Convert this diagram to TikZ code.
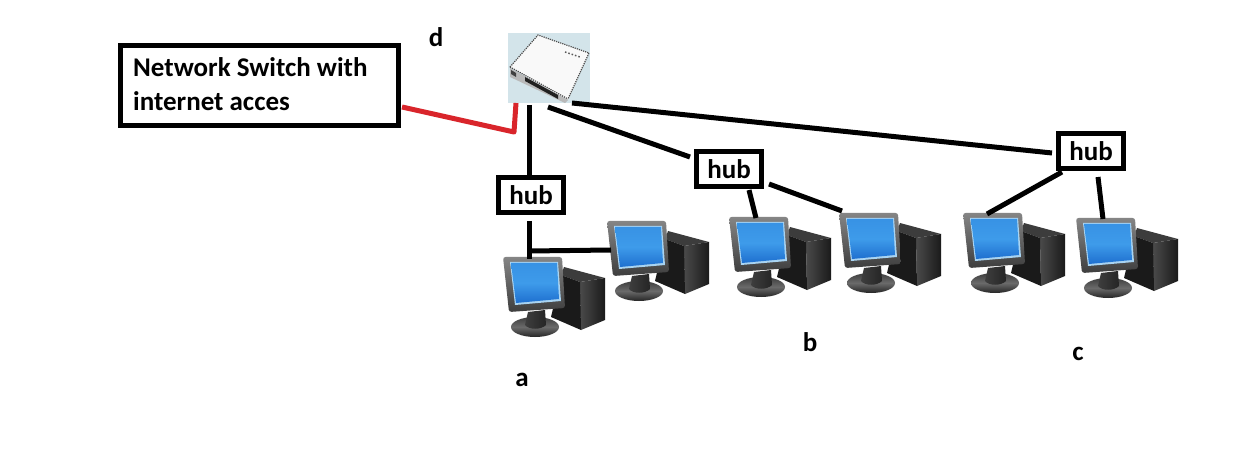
\documentclass[tikz,border=0pt]{standalone}
\usepackage{fontspec}
\setmainfont{Carlito}
\definecolor{scrdk}{HTML}{1E6FCF}
\definecolor{scrmid}{HTML}{3E9BEA}
\definecolor{scrl}{HTML}{A9D4F2}
\definecolor{monlt}{HTML}{858585}
\definecolor{mondk}{HTML}{3E3E3E}
\definecolor{twrl}{HTML}{1A1A1A}
\definecolor{twrm}{HTML}{4A4A4A}
\definecolor{twrt}{HTML}{3C3C3C}
\definecolor{netred}{HTML}{D9252B}
\definecolor{swbg}{HTML}{D3E4EA}
\tikzset{
  x=1pt,y=-1pt,
  wire/.style={line width=5pt,black},
  redwire/.style={line width=5pt,netred,line join=round},
  hubbox/.style={draw=black,line width=5pt,fill=white,font=\bfseries\fontsize{27}{27}\selectfont,inner sep=0pt,minimum height=35pt,minimum width=65pt},
  lab/.style={font=\bfseries\fontsize{27}{27}\selectfont,inner sep=0pt}
}
\newcommand{\pcicon}[2]{%
\begin{scope}[shift={(#1,#2)}]
 \fill[twrt] (61,10) -- (102,21) -- (77,25) -- (58,18) -- cycle;
 \shade[left color=twrm,right color=twrl] (77,25) -- (102,21) -- (102,63) -- (78,73) -- cycle;
 \fill[twrl] (58,18) -- (77,25) -- (78,73) -- (48,60) -- cycle;
 \shade[top color=mondk,bottom color=mondk!60!black,middle color=monlt!80!black] (32,70) ellipse (24 and 10);
 \shade[left color=mondk,right color=mondk!60!black] (25,55) -- (42,53) -- (43,68) .. controls (38,73) and (26,73) .. (22,68) -- cycle;
 \shade[top color=monlt,bottom color=mondk,rounded corners=2.5pt] (0,0) -- (59,0) -- (62,51) -- (6,55) -- cycle;
 \fill[scrl] (7,5) -- (55,5) -- (58,44) -- (12,48) -- cycle;
 \shade[top color=scrmid!80!scrdk,bottom color=scrdk,middle color=scrmid] (8,6) -- (54,6) -- (56,42) -- (13,46) -- cycle;
\end{scope}}
\begin{document}
\begin{tikzpicture}
\useasboundingbox (0,0) rectangle (1236,470);
\fill[white] (0,0) rectangle (1236,470);
% switch image
\fill[swbg] (508,33) rectangle (589.5,103);
\fill[white!95!gray] (510,67) -- (538,35) -- (589,53) -- (568,100) -- cycle;
\fill[gray!55] (510,68) -- (568,100) -- (565,103) -- (510,77) -- cycle;
\draw[gray!60!black,densely dotted,line width=1.2pt] (510,67) -- (538,35) -- (589,53) -- (568,99);
\draw[gray!60!black,densely dotted,line width=1.2pt] (510,67) -- (568,99);
\draw[gray!70!black,dotted,line width=1.5pt] (565,52) -- (580,57);
\fill[gray!25!black] (525,77) -- (558,95) -- (558,99) -- (525,81) -- cycle;
\fill[gray!50!black] (511,70) -- (516,73) -- (516,77) -- (511,74) -- cycle;
% computers
\pcicon{503}{257}
\pcicon{607}{221}
\pcicon{729}{217}
\pcicon{839}{213}
\pcicon{963}{213}
\pcicon{1076}{218}
\coordinate (pa1) at (529,259);
\coordinate (pa2) at (611,250);
\coordinate (pb1) at (756,218);
\coordinate (pb2) at (842,211);
\coordinate (pc1) at (987,214);
\coordinate (pc2) at (1103,219);
% hubs
\node[hubbox] (huba) at (531,195) {hub};
\node[hubbox] (hubb) at (729,169) {hub};
\node[hubbox] (hubc) at (1091,151.5) {hub};
% label box
\node[draw=black,line width=5pt,fill=white,minimum width=278pt,minimum height=80pt,inner sep=0pt] (nsw) at (259.5,85.5) {};
\node[lab,anchor=west] (t1) at (133,67) {Network Switch with};
\node[lab,anchor=west] (t2) at (133,101) {internet acces};
\node[lab] (da) at (522,380) {a};
\node[lab] (db) at (810,342) {b};
\node[lab] (dc) at (1078,354) {c};
\node[lab] (dd) at (436,37) {d};
% connectors
\coordinate (s1) at (529,105);
\coordinate (s2) at (548,107);
\coordinate (s3) at (572,103);
\coordinate (s4) at (516,103);
\coordinate (j) at (529,251);
\coordinate (r0) at (402,107);
\coordinate (r1) at (514,132);
\coordinate (h1) at (529,221);
\coordinate (e2) at (690,157);
\coordinate (e3) at (1052,153);
\draw[wire] (s1) -- (s1 |- huba.north);
\draw[wire] (h1) -- (pa1);
\draw[wire] (j) -- (pa2);
\draw[wire] (s2) -- (e2);
\draw[wire] (s3) -- (e3);
\coordinate (b1) at (749,190);
\draw[wire] (b1) -- (pb1);
\coordinate (b2) at (769,184);
\draw[wire] (b2) -- (pb2);
\coordinate (c1) at (1062,172);
\draw[wire] (c1) -- (pc1);
\coordinate (c2) at (1098,177);
\draw[wire] (c2) -- (pc2);
\draw[redwire] (r0) -- (r1) -- (s4);
\end{tikzpicture}
\end{document}
